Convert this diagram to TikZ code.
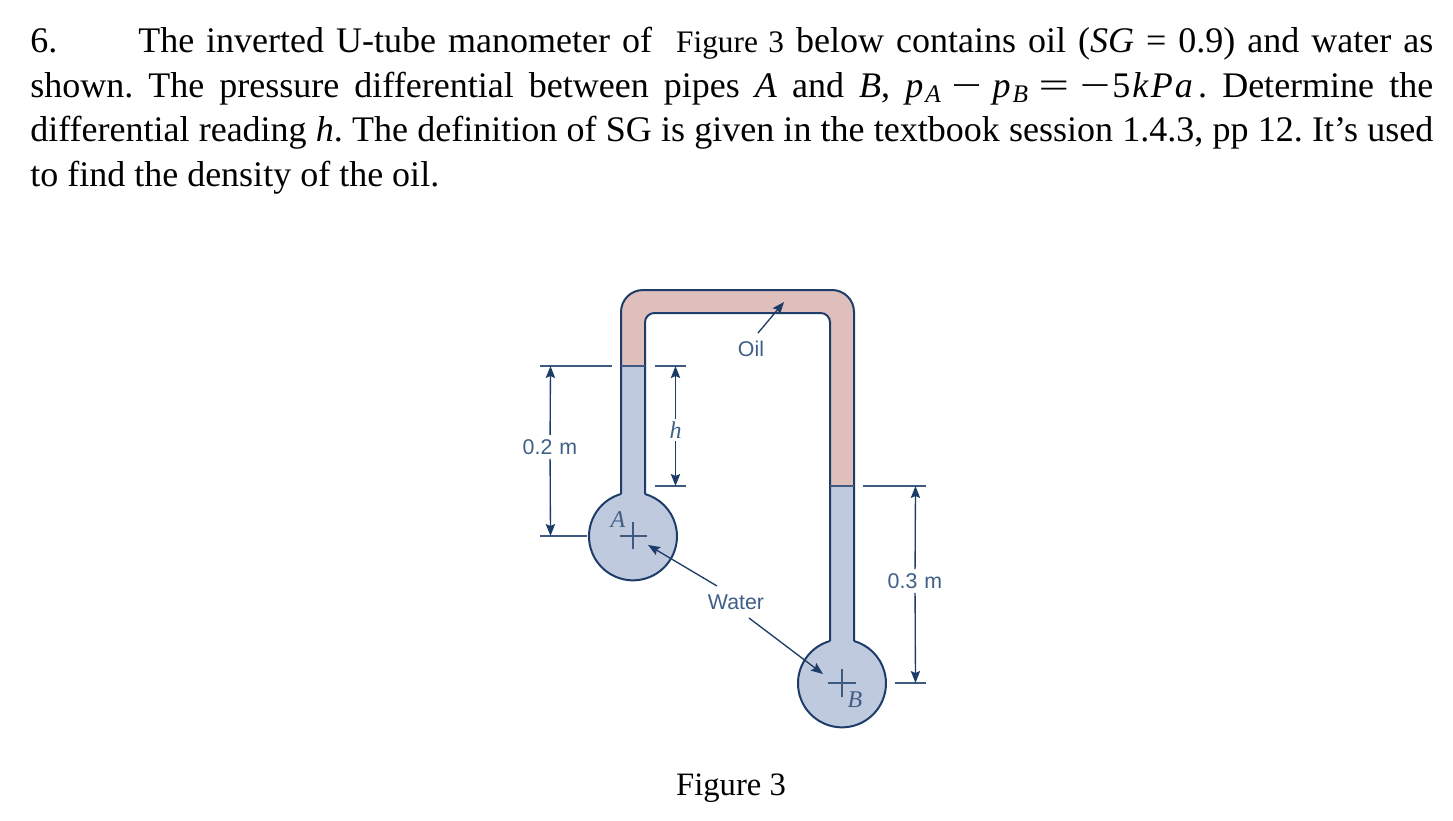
\documentclass[tikz,border=0pt]{standalone}
\usepackage{amsmath}
\usepackage{xcolor}
\usepackage{fontspec}
\setmainfont{Liberation Serif}
\setsansfont{Liberation Sans}
\usetikzlibrary{positioning,arrows.meta}
\definecolor{tubeline}{HTML}{1D3D68}
\definecolor{labelblue}{HTML}{3F5F86}
\definecolor{waterfill}{HTML}{C0CADF}
\definecolor{oilfill}{HTML}{DFBFBC}
\tikzset{
    textline/.style={anchor=west, inner sep=0pt, font=\fontsize{27}{30}\selectfont\frenchspacing},
    wall/.style={draw=tubeline, line width=1.5pt, line join=round},
    dimline/.style={draw=tubeline!85, line width=1pt},
    lead/.style={draw=tubeline, line width=1pt, -{Stealth[length=9pt,width=7pt,inset=1.5pt]}},
    tag/.style={inner sep=0pt, text=labelblue, font=\sffamily\fontsize{16}{18}\selectfont},
    letter/.style={inner sep=0pt, text=labelblue, font=\itshape\fontsize{18}{20}\selectfont},
}
\newcommand{\fullline}[1]{\makebox[1052.25pt][s]{#1}}
\newcommand{\pres}[1]{\textit{p}\kern1.5pt\raisebox{-3.5pt}{\fontsize{19}{20}\selectfont\textit{#1}}}
\newcommand{\bigop}[1]{\scalebox{1.5}[1]{#1}}
\begin{document}
\begin{tikzpicture}[x=0.75pt, y=-0.75pt]
        \useasboundingbox (0,0) rectangle (1453,821);

        % question text
        \node (l1) [textline] at (30,44) {\fullline{\makebox[81pt][l]{6.}The inverted U-tube manometer of \ {\fontsize{23.5}{30}\selectfont Figure 3} below contains oil (\textit{SG} = 0.9) and water as}};
        \node (l2) [textline] at (30,89) {\fullline{shown. The pressure differential between pipes \textit{A} and \textit{B}, \pres{A}\kern8pt\bigop{−}\kern8pt\pres{B}\kern8pt\bigop{=}\kern8pt\bigop{−}\kern1.5pt5\kern1.5pt\textit{k}\kern1.5pt\textit{P}\kern1.5pt\textit{a}\kern4pt. Determine the}};
        \node (l3) [textline] at (30,133) {\fullline{differential reading \textit{h}. The definition of SG is given in the textbook session 1.4.3, pp 12. It’s used}};
        \node (l4) [textline] at (30,178) {to find the density of the oil.};

        % fluids
        \fill[oilfill] [rounded corners=16.5pt] (621,366) -- (621,290) -- (854,290) [sharp corners] -- (854,486) -- (830,486)
            [rounded corners=7pt] -- (830,313) -- (645,313) [sharp corners] -- (645,366) -- cycle;
        \fill[waterfill] (621,366) -- (621,494) arc[start angle=254.2, end angle=-74.2, radius=44] -- (645,366) -- cycle;
        \fill[waterfill] (830,486) -- (830,641) arc[start angle=254.2, end angle=-74.2, radius=44] -- (854,486) -- cycle;

        % tube walls
        \draw[wall, rounded corners=16.5pt] (621,494) -- (621,290) -- (854,290) -- (854,641);
        \draw[wall, rounded corners=7pt] (645,494) -- (645,313) -- (830,313) -- (830,641);
        \draw[wall] (621,494) arc[start angle=254.2, end angle=-74.2, radius=44];
        \draw[wall] (830,641) arc[start angle=254.2, end angle=-74.2, radius=44];
        \draw[dimline] (621,366) -- (645,366);
        \draw[dimline] (830,486) -- (854,486);

        % centre marks
        \draw[dimline] (620,536) -- (647,536);
        \draw[dimline] (633,522) -- (633,549);
        \draw[dimline] (828,683) -- (856,683);
        \draw[dimline] (842,669) -- (842,697);
        \node (pa) [letter] at (618,520) {A};
        \node (pb) [letter] at (855,700) {B};

        % dimension ends
        \coordinate (ta) at (550.5,366);
        \coordinate (ba) at (550.5,536);
        \coordinate (th) at (675.5,366);
        \coordinate (bh) at (675.5,486);
        \coordinate (tr) at (915.5,486);
        \coordinate (br) at (915.5,683);

        \draw[dimline] (540,366) -- (612,366);
        \draw[dimline] (540,536) -- (587,536);
        \draw[dimline] (655,366) -- (686,366);
        \draw[dimline] (655,486) -- (686,486);
        \draw[dimline] (863,486) -- (926,486);
        \draw[dimline] (895,683) -- (926,683);

        \node (d2) [tag, fill=white, inner ysep=3pt] at (550,447) {0.2\,\,m};
        \node (dh) [letter, fill=white, inner ysep=2pt] at (675.5,430) {h};
        \node (d3) [tag, fill=white, inner ysep=3pt] at (915,581) {0.3\,\,m};

        \draw[lead] (d2) -- (ta);
        \draw[lead] (d2) -- (ba);
        \draw[lead] (dh) -- (th);
        \draw[lead] (dh) -- (bh);
        \draw[lead] (d3) -- (tr);
        \draw[lead] (d3) -- (br);

        % fluid labels
        \node (oil) [tag] at (751,349) {Oil};
        \node (water) [tag] at (736,602) {Water};
        \coordinate (oilend) at (784,302);
        \coordinate (aend) at (648,545);
        \coordinate (bend) at (823,674);
        \coordinate (oilstart) at (758,333);
        \coordinate (wa) at (717,586);
        \coordinate (wb) at (749,618);
        \draw[lead] (oilstart) -- (oilend);
        \draw[lead] (wa) -- (aend);
        \draw[lead] (wb) -- (bend);

        \node (cap) [inner sep=0pt, font=\fontsize{24.5}{30}\selectfont] at (731,788) {Figure 3};
    \end{tikzpicture}
\end{document}
